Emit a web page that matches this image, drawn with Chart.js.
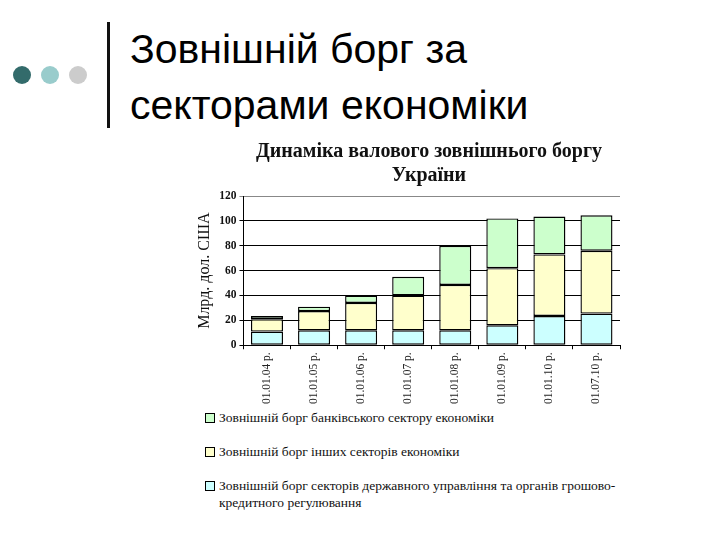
<!DOCTYPE html>
<html>
<head>
<meta charset="utf-8">
<script src="https://cdn.jsdelivr.net/npm/chart.js@4.4.0/dist/chart.umd.min.js"></script>
<style>
    body { margin: 0; background: #fff; }
    #slide { position: relative; width: 720px; height: 540px; overflow: hidden; background: #fff; }
    .dot { position: absolute; width: 18px; height: 18px; border-radius: 50%; top: 66px; }
    #vline { position: absolute; left: 107px; top: 22px; width: 3px; height: 106px; background: #111; }
    #heading { position: absolute; left: 130px; top: 21px; font-family: "Liberation Sans", Arial, sans-serif;
        font-size: 41px; line-height: 56px; color: #000; margin: 0; font-weight: normal; }
    #chartBox { position: absolute; left: 193px; top: 132px; }
    #legend { position: absolute; left: 205px; top: 409px; font-family: "Liberation Serif", "Times New Roman", serif;
        font-size: 13.5px; line-height: 17px; color: #111; }
    .item { display: flex; align-items: flex-start; margin-bottom: 17px; width: 428px; }
    .box { width: 8px; height: 8px; border: 1px solid #000; margin: 4px 4px 0 0; flex: none; }
</style>
</head>
<body>
<div id="slide">
    <div class="dot" style="left:13px;background:#336b6b"></div>
    <div class="dot" style="left:41px;background:#99cccc"></div>
    <div class="dot" style="left:69px;background:#cccccc"></div>
    <div id="vline"></div>
    <h1 id="heading">Зовнішній борг за<br>секторами економіки</h1>
    <div id="chartBox"><canvas id="myBarChartBorg" width="472" height="275"></canvas></div>
    <div id="legend"></div>
</div>
<script>
// Дати (категорії осі X)
const dates = ['01.01.04 р.', '01.01.05 р.', '01.01.06 р.', '01.01.07 р.', '01.01.08 р.', '01.01.09 р.', '01.01.10 р.', '01.07.10 р.'];
// Млрд. дол. США, оцінено з малюнка
const derzhavnyi = [11, 12, 12, 12, 12, 16, 23.5, 25.5];
const inshi = [10, 15.5, 22, 28, 36.5, 46, 49.5, 50.5];
const bankivskyi = [2.5, 3.5, 6, 15, 31.5, 40, 30.5, 28.5];
const yTicks = [0, 20, 40, 60, 80, 100, 120];

const seriesNames = [
    'Зовнішній борг банківського сектору економіки',
    'Зовнішній борг інших секторів економіки',
    'Зовнішній борг секторів державного управління та органів грошово-кредитного регулювання'
];
const seriesColors = ['#ccffcc', '#ffffcc', '#ccffff'];

const serif = '"Liberation Serif", "Times New Roman", serif';

const ctx = document.getElementById('myBarChartBorg').getContext('2d');
new Chart(ctx, {
    type: 'bar',
    data: {
        labels: dates,
        datasets: [
            { label: seriesNames[2], data: derzhavnyi, backgroundColor: seriesColors[2] },
            { label: seriesNames[1], data: inshi, backgroundColor: seriesColors[1] },
            { label: seriesNames[0], data: bankivskyi, backgroundColor: seriesColors[0] }
        ].map(ds => Object.assign(ds, {
            borderColor: '#000',
            borderWidth: 1.4,
            borderSkipped: false,
            barPercentage: 0.68,
            categoryPercentage: 1
        }))
    },
    options: {
        responsive: false,
        animation: false,
        scales: {
            x: {
                stacked: true,
                border: { color: '#000', width: 1 },
                grid: { drawOnChartArea: false, drawTicks: true, tickLength: 4, color: '#000' },
                ticks: { minRotation: 90, maxRotation: 90, color: '#222', font: { family: serif, size: 11.5 }, padding: 3 }
            },
            y: {
                stacked: true,
                min: 0,
                max: 120,
                afterBuildTicks: axis => { axis.ticks = yTicks.map(v => ({ value: v })); },
                border: { color: '#000', width: 1 },
                grid: { color: c => (c.tick && c.tick.value === 120 ? '#888' : '#000'), lineWidth: 1, tickLength: 4 },
                ticks: { color: '#111', font: { family: serif, size: 11.5, weight: 'bold' }, padding: 3 },
                title: { display: true, text: 'Млрд. дол. США', color: '#111', font: { family: serif, size: 16 }, padding: 2 }
            },
            // порожнє місце праворуч, щоб заголовок був по центру графіка
            spacer: {
                position: 'right',
                grid: { display: false },
                border: { display: false },
                ticks: { display: false },
                afterFit: scale => { scale.width = 45; }
            }
        },
        plugins: {
            legend: { display: false },
            tooltip: { enabled: false },
            title: {
                display: true,
                text: ['Динаміка валового зовнішнього боргу', 'України'],
                color: '#111',
                font: { family: serif, size: 20, weight: 'bold' },
                padding: { top: 8, bottom: 8 },
                lineHeight: 1.12
            }
        }
    }
});

// Легенда (зверху вниз як на малюнку)
const legend = document.getElementById('legend');
seriesNames.forEach((name, i) => {
    const item = document.createElement('div');
    item.className = 'item';
    item.innerHTML = `<span class="box" style="background:${seriesColors[i]}"></span><span>${name}</span>`;
    legend.appendChild(item);
});
</script>
</body>
</html>
